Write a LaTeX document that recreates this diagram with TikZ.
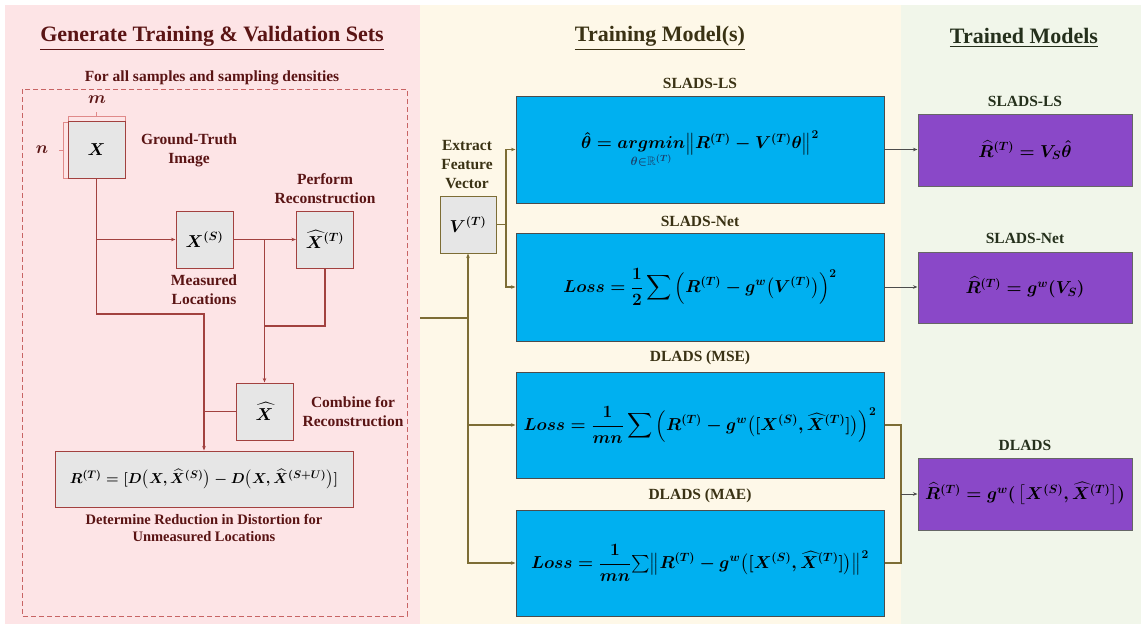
\documentclass[tikz,border=0pt]{standalone}
\usepackage{fontspec}
\setmainfont{Liberation Serif}
\usepackage{amsmath,amssymb}
\usetikzlibrary{arrows.meta}
\definecolor{pinkbg}{HTML}{FDE4E6}
\definecolor{creambg}{HTML}{FEF8E8}
\definecolor{greenbg}{HTML}{F1F6EA}
\definecolor{redline}{HTML}{A2413F}
\definecolor{redtxt}{HTML}{5A1414}
\definecolor{oliveline}{HTML}{7D6D35}
\definecolor{olivetxt}{HTML}{3A3214}
\definecolor{greentxt}{HTML}{25301C}
\definecolor{boxgray}{HTML}{E6E6E6}
\definecolor{bluebox}{HTML}{00B0F0}
\definecolor{purplebox}{HTML}{8A48C8}
\definecolor{navy}{HTML}{1B3F6B}
\definecolor{bracketc}{HTML}{E08A8A}
\definecolor{dashc}{HTML}{C86464}
\tikzset{
  title/.style={font=\fontsize{22}{25}\selectfont\bfseries},
  lbl/.style={font=\fontsize{15.5}{19}\selectfont\bfseries, align=center, text=redtxt},
  mlbl/.style={font=\fontsize{15.5}{19}\selectfont\bfseries, align=center, text=olivetxt},
  rlbl/.style={font=\fontsize{15.5}{19}\selectfont\bfseries, align=center, text=greentxt},
  gbox/.style={draw=redline, fill=boxgray, line width=1pt, minimum width=57pt, minimum height=57pt, inner sep=0pt, font=\fontsize{17.5}{20}\selectfont\boldmath},
  vbox/.style={draw=oliveline, fill=boxgray, line width=1pt, minimum width=56pt, minimum height=57pt, inner sep=0pt, font=\fontsize{17.5}{20}\selectfont\boldmath},
  bbox/.style={draw=black!70, fill=bluebox, line width=1pt, minimum width=368pt, inner sep=0pt, font=\fontsize{17.5}{21}\selectfont\boldmath},
  pbox/.style={draw=black!60, fill=purplebox, line width=1pt, minimum width=214pt, minimum height=72pt, inner sep=0pt, font=\fontsize{16.5}{20}\selectfont\boldmath},
  pl/.style={draw=redline, line width=1.4pt},
  ol/.style={draw=oliveline, line width=1.1pt},
  bl/.style={draw=black!70, line width=0.9pt},
  arr/.style={-{Stealth[length=4.5pt,width=3.5pt]}},
}
\begin{document}
\begin{tikzpicture}[x=1pt,y=-1pt]
\useasboundingbox (0,0) rectangle (1146,627);
% panels
\fill[white] (0,0) rectangle (1146,627);
\fill[pinkbg] (5,5) rectangle (420,624);
\fill[creambg] (420,5) rectangle (901,624);
\fill[greenbg] (901,5) rectangle (1141,624);
\coordinate (pe) at (420,318);

% titles
\node[title, text=redtxt] (t1) at (212,38) {\underline{Generate Training \& Validation Sets}};
\node[title, text=olivetxt] (t2) at (660,38) {\underline{Training Model(s)}};
\node[title, text=greentxt] (t3) at (1024,38) {\underline{Trained Models}};

% left panel
\node[lbl] (forall) at (212,78) {For all samples and sampling densities};
\draw[dashc, line width=1pt, dash pattern=on 5pt off 3pt] (22,89) rectangle (407,616);

\node[gbox] (X) at (96.5,149.5) {$X$};
\node[gbox] (XS) at (204.5,239.5) {$X^{(S)}$};
\node[gbox] (XT) at (325,239.5) {$\widehat{X}^{(T)}$};
\node[gbox] (Xh) at (264.5,411.5) {$\widehat{X}$};
\node[gbox, minimum width=298pt, minimum height=56pt, font=\fontsize{15.8}{19}\selectfont\boldmath] (R) at (204,479)
  {$R^{(T)} = [D\big(X,\widehat{X}^{(S)}\big) - D\big(X,\widehat{X}^{(S+U)}\big)]$};

% brackets m and n
\draw[bracketc, line width=0.8pt] (68,121) -- (68,116) -- (125,116) -- (125,121);
\draw[bracketc, line width=0.8pt] (96.5,116) -- (96.5,112);
\draw[bracketc, line width=0.8pt] (68,122) -- (63,122) -- (63,178) -- (68,178);
\draw[bracketc, line width=0.8pt] (63,150) -- (59,150);
\node[font=\fontsize{17}{19}\selectfont\boldmath, text=redtxt] (m) at (97,100) {$m$};
\node[font=\fontsize{17}{19}\selectfont\boldmath, text=redtxt] (n) at (42,150) {$n$};

\node[lbl] (gt) at (189,150) {Ground-Truth\\Image};
\node[lbl] (ml) at (204,290) {Measured\\Locations};
\node[lbl] (pr) at (325,189) {Perform\\Reconstruction};
\node[lbl] (cr) at (353,412) {Combine for\\Reconstruction};
\node[lbl, font=\fontsize{14.5}{17.5}\selectfont\bfseries] (dr) at (204,528) {Determine Reduction in Distortion for\\Unmeasured Locations};

\coordinate (j1) at (96.5,314);
\coordinate (j2) at (264.5,326);
\draw[pl, arr] (X.south) -- (j1) -| (R.north);
\draw[pl, arr] (X.south |- XS.west) -- (XS.west);
\draw[pl, arr] (XS.east) -- (XT.west);
\draw[pl, arr] (XS.east -| Xh.north) -- (Xh.north);
\draw[pl] (XT.south) |- (j2);
\draw[pl] (Xh.west) -- (Xh.west -| R.north);

% middle panel
\node[vbox] (V) at (468,224.5) {$V^{(T)}$};
\node[mlbl] (efv) at (467,165) {Extract\\Feature\\Vector};

\node[mlbl] (l1) at (700,83) {SLADS-LS};
\node[mlbl] (l2) at (700,221) {SLADS-Net};
\node[mlbl] (l3) at (700,358) {DLADS (MSE)};
\node[mlbl] (l4) at (700,496) {DLADS (MAE)};

\node[bbox, minimum height=107pt] (B1) at (700,149.5)
  {$\hat{\theta} = \underset{\textcolor{navy}{\theta\in\mathbb{R}^{(T)}}}{argmin}\big\| R^{(T)} - V^{(T)}\theta\big\|^2$};
\node[bbox, minimum height=108pt] (B2) at (700,287)
  {$\displaystyle Loss = \frac{1}{2}\sum\Big(R^{(T)} - g^{w}\big(V^{(T)}\big)\Big)^2$};
\node[bbox, minimum height=106pt] (B3) at (700,425)
  {$\displaystyle Loss = \frac{1}{mn}\sum\Big(R^{(T)} - g^{w}\big([X^{(S)},\widehat{X}^{(T)}]\big)\Big)^2$};
\node[bbox, minimum height=106pt] (B4) at (700,563)
  {$\displaystyle Loss = \frac{1}{mn}{\textstyle\sum}\big\|R^{(T)} - g^{w}\big([X^{(S)},\widehat{X}^{(T)}]\big)\big\|^2$};

\coordinate (j3) at (468,318);
\draw[ol] (pe) -- (j3);
\draw[ol, arr] (j3) -- (V.south);
\draw[ol, arr] (j3) |- (B4.west);
\draw[ol, arr] (B3.west -| j3) -- (B3.west);
\coordinate (j5) at (506,224.5);
\draw[ol] (V.east) -- (j5);
\draw[ol, arr] (j5) |- (B1.west);
\draw[ol, arr] (j5) |- (B2.west);

% right panel
\node[rlbl] (r1) at (1025,101) {SLADS-LS};
\node[rlbl] (r2) at (1025,238) {SLADS-Net};
\node[rlbl] (r3) at (1025,445) {DLADS};

\node[pbox] (P1) at (1025,150) {$\widehat{R}^{(T)} = V_S\hat{\theta}$};
\node[pbox, minimum height=71pt] (P2) at (1025,287.5) {$\widehat{R}^{(T)} = g^{w}(V_S)$};
\node[pbox] (P3) at (1025,494) {$\widehat{R}^{(T)} = g^{w}(\,\big[X^{(S)},\widehat{X}^{(T)}\big])$};

\draw[bl, arr] (B1.east) -- (B1.east -| P1.west);
\draw[bl, arr] (B2.east) -- (B2.east -| P2.west);
\coordinate (j4) at (901,494);
\draw[ol] (B3.east) -| (j4) |- (B4.east);
\draw[bl, arr] (j4) -- (P3.west);
\end{tikzpicture}
\end{document}
